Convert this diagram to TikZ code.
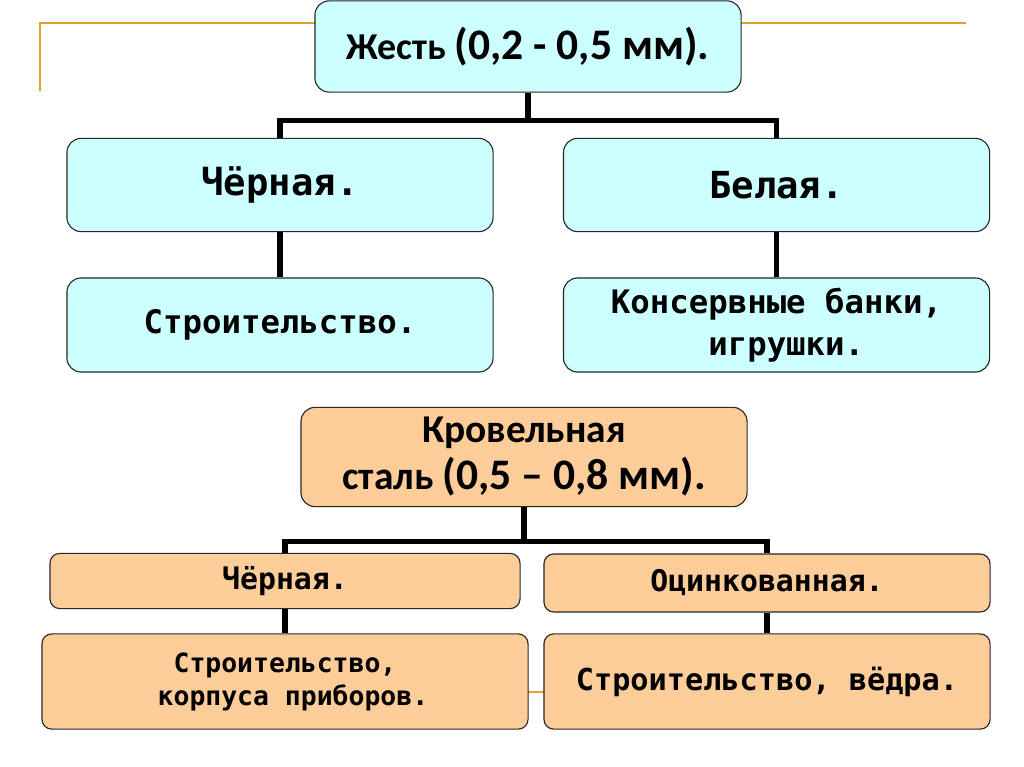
\documentclass[tikz,border=0pt]{standalone}
\usepackage{fontspec}
\setmainfont{Carlito}[BoldFont={Carlito Bold}]
\setmonofont{DejaVu Sans Mono}[BoldFont={DejaVu Sans Mono Bold}]
\usepackage{tikz}
\usetikzlibrary{positioning, calc}

\definecolor{tincyan}{RGB}{204,255,255}
\definecolor{roofpeach}{RGB}{252,204,153}
\definecolor{goldrule}{RGB}{222,164,40}

\begin{document}
\begin{tikzpicture}[
    x=0.025cm, y=-0.025cm,
    conn/.style={line width=3.6pt, line join=miter},
    deco/.style={draw=goldrule, line width=1.4pt},
    box/.style={draw=black!85, line width=0.8pt, align=center, inner sep=0pt},
    headbox/.style={box, rounded corners=10pt},
    cyanbox/.style={box, fill=tincyan, rounded corners=10pt, minimum width=10.65cm, minimum height=2.33cm},
    peachbox/.style={box, fill=roofpeach, rounded corners=7pt}
]
    \useasboundingbox (0,0) rectangle (1024,767);
    \fill[white] (0,0) rectangle (1024,767);

    % ================= GOLD RULES =================
    \draw[deco] (40,91) -- (40,23) -- (966,23);
    \draw[deco] (500,692) -- (570,692);

    % ================= TIN (ЖЕСТЬ) =================
    \node[headbox, fill=tincyan, minimum width=10.65cm, minimum height=2.28cm,
          font=\bfseries\fontsize{27}{33}\selectfont] (zh) at (528,46.5)
        {Жесть {\fontsize{31}{33}\selectfont (0,2 - 0,5 мм).}};

    \node[cyanbox, font=\ttfamily\bfseries\fontsize{26.5}{30}\selectfont] (blackTin) at (280,185) {Чёрная.};
    \node[cyanbox, font=\ttfamily\bfseries\fontsize{26.5}{30}\selectfont] (whiteTin) at (776.5,185) {Белая.};

    \node[cyanbox, minimum height=2.35cm, font=\ttfamily\bfseries\fontsize{23}{30}\selectfont] (useBlackTin) at (280,325) {Строительство.};
    \node[cyanbox, minimum height=2.35cm, font=\ttfamily\bfseries\fontsize{23}{30}\selectfont] (useWhiteTin) at (776.5,325)
        {Консервные банки,\\\hphantom{и}игрушки.};

    \draw[conn] (zh.south) -- ++(0,28) -| (blackTin.north);
    \draw[conn] (zh.south) -- ++(0,28) -| (whiteTin.north);
    \draw[conn] (blackTin.south) -- (useBlackTin.north);
    \draw[conn] (whiteTin.south) -- (useWhiteTin.north);

    % ================= ROOFING STEEL =================
    \node[headbox, fill=roofpeach, minimum width=11.15cm, minimum height=2.48cm,
          font=\bfseries\fontsize{28}{33.4}\selectfont] (krov) at (524,457)
        {Кровельная\\
         сталь {\fontsize{31}{33.4}\selectfont (0,5 – 0,8 мм).}};

    \node[peachbox, minimum width=11.75cm, minimum height=1.38cm, font=\ttfamily\bfseries\fontsize{21.2}{25}\selectfont] (blackRoof) at (285,581) {Чёрная.};
    \node[peachbox, minimum width=11.15cm, minimum height=1.45cm, font=\ttfamily\bfseries\fontsize{21.2}{25}\selectfont] (zincRoof) at (767,583) {Оцинкованная.};

    \node[peachbox, minimum width=12.15cm, minimum height=2.38cm, font=\ttfamily\bfseries\fontsize{18.8}{23.5}\selectfont] (useBlackRoof) at (285,681.5)
        {Строительство,\\\hphantom{к}корпуса приборов.};
    \node[peachbox, minimum width=11.15cm, minimum height=2.38cm, font=\ttfamily\bfseries\fontsize{21.5}{25}\selectfont] (useZincRoof) at (767,681.5)
        {Строительство, вёдра.};

    \draw[conn] (krov.south) -- ++(0,34) -| (blackRoof.north);
    \draw[conn] (krov.south) -- ++(0,34) -| (zincRoof.north);
    \draw[conn] (blackRoof.south) -- (useBlackRoof.north);
    \draw[conn] (zincRoof.south) -- (useZincRoof.north);

\end{tikzpicture}
\end{document}
